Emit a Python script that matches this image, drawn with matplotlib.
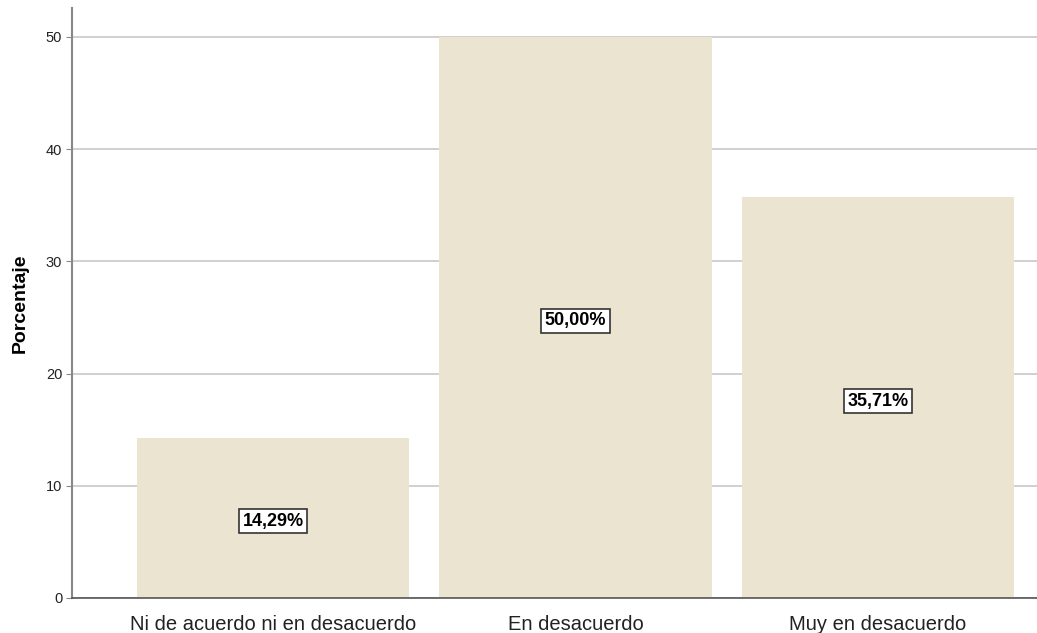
import numpy as np
import matplotlib.pyplot as plt

categories = ["Ni de acuerdo ni en desacuerdo", "En desacuerdo", "Muy en desacuerdo"]
porcentajes = [14.29, 50.00, 35.71]
etiquetas = ["14,29%", "50,00%", "35,71%"]
y_ticks = [0, 10, 20, 30, 40, 50]

plt.rcParams['font.family'] = ['Liberation Sans', 'DejaVu Sans']

fig = plt.figure(figsize=(10.37, 6.33), dpi=100)
ax = fig.add_axes([0.0694, 0.0553, 0.9306, 0.932])

x = np.arange(len(categories))
ax.bar(x, porcentajes, width=0.9, color="#EBE4D0", zorder=2)

for xi, val, lab in zip(x, porcentajes, etiquetas):
    ax.text(xi, val / 2 - 0.3, lab, ha='center', va='center', fontsize=13, fontweight='bold',
            color='black', zorder=3,
            bbox=dict(boxstyle='square,pad=0.2', facecolor='white', edgecolor='#333333', linewidth=1.2))

ax.set_xlim(-0.6645, 2.5256)
ax.set_ylim(0, 52.58)
ax.set_yticks(y_ticks)
ax.set_xticks(x)
ax.set_xticklabels(categories, fontsize=14.5, color='#222222')
ax.tick_params(axis='x', length=0, pad=12)
ax.tick_params(axis='y', length=4, color='#888888', labelsize=10.5, labelcolor='#222222', pad=3)
ax.yaxis.grid(True, color='#C8C8C8', linewidth=1.2, zorder=1)
ax.set_axisbelow(True)

for s in ['top', 'right']:
    ax.spines[s].set_visible(False)
ax.spines['left'].set_color('#888888')
ax.spines['left'].set_linewidth(1.5)
ax.spines['bottom'].set_color('#555555')
ax.spines['bottom'].set_linewidth(1.2)

ax.set_ylabel("Porcentaje", fontsize=14, fontweight='bold', labelpad=12)

fig.savefig("out.png", dpi=100)
